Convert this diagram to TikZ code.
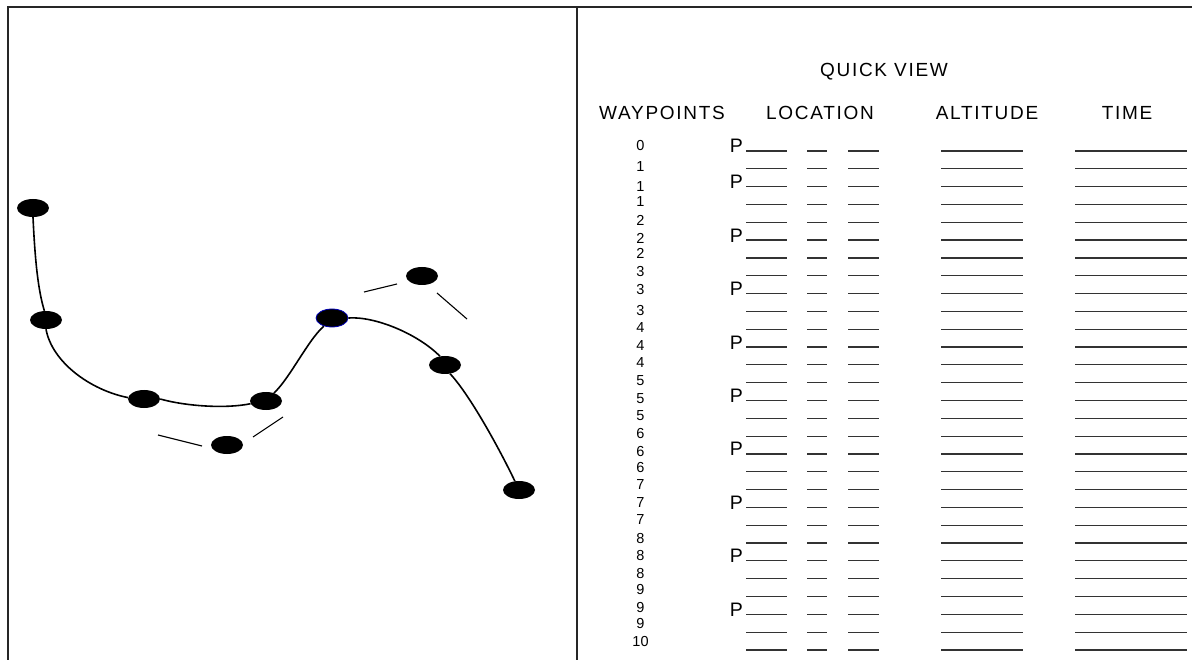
\documentclass[tikz,border=0pt]{standalone}
\usepackage{fontspec}
\setmainfont{Liberation Sans}
\newfontfamily\hdrfont[LetterSpace=9]{Liberation Sans}
\usetikzlibrary{shapes.geometric}
\tikzset{
  frame/.style={line width=1.6pt, black!85},
  tl/.style={line width=1.2pt, black!80},
  hdr/.style={inner sep=0pt, font=\hdrfont\fontsize{19}{21}\selectfont},
  num/.style={inner sep=0pt, font=\fontsize{14.5}{16}\selectfont},
  ptxt/.style={inner sep=0pt, font=\fontsize{19.5}{21}\selectfont},
  wp/.style={ellipse, fill=black, minimum width=32pt, minimum height=18pt, inner sep=0pt},
  trk/.style={line width=1.6pt, black},
  tick/.style={line width=1.1pt, black}
}
\begin{document}
\begin{tikzpicture}[x=1pt,y=-1pt]
\useasboundingbox (0,0) rectangle (1192,660);
% frame
\draw[frame] (8,660) -- (8,7) -- (1192,7);
\draw[frame] (577,7) -- (577,660);
% headers
\node[hdr] (qv) at (884,72) {QUICK VIEW};
\node[hdr] (hw) at (662,113) {WAYPOINTS};
\node[hdr] (hl) at (820,113) {LOCATION};
\node[hdr] (ha) at (987,113) {ALTITUDE};
\node[hdr] (ht) at (1127,113) {TIME};
% table lines
\foreach \j in {0,...,28} {
  \pgfmathsetmacro\yy{151+\j*17.82}
  \draw[tl] (746,\yy) -- (787,\yy);
  \draw[tl] (807,\yy) -- (827,\yy);
  \draw[tl] (848,\yy) -- (879,\yy);
  \draw[tl] (941,\yy) -- (1023,\yy);
  \draw[tl] (1075,\yy) -- (1187,\yy);
}
% P labels
\foreach \j in {0,2,5,8,11,14,17,20,23,26} {
  \pgfmathsetmacro\yy{151+\j*17.82+2}
  \node[ptxt, anchor=base east] (p\j) at (743,\yy) {P};
}
% waypoint numbers
\foreach \n/\y [count=\i] in {0/146,1/167,1/187,1/202,2/220.5,2/238.5,2/253.5,3/271.5,3/290,3/311,4/328,4/346,4/363,5/381,5/399,5/416,6/434,6/451.5,6/468,7/485,7/502.5,7/520,8/539,8/556,8/574,9/590,9/608,9/624,10/642} {
  \node[num] (n\i) at (640.5,\y) {\n};
}
% waypoints
\node[wp] (w1) at (33,208) {};
\node[wp] (w2) at (46,320) {};
\node[wp] (w3) at (144,399) {};
\node[wp] (w4) at (266,401) {};
\node[wp] (w5) at (227,445) {};
\node[wp, draw=blue!70!black, line width=0.8pt] (w6) at (332,318) {};
\node[wp] (w7) at (422,276) {};
\node[wp] (w8) at (445,365) {};
\node[wp] (w9) at (519,490) {};
% track
\draw[trk] (w1.south) .. controls (35,260) and (38,290) .. (w2.100);
\draw[trk] (w2.south) .. controls (52,362) and (90,390) .. (w3.175);
\draw[trk] (w3.east) .. controls (185,406) and (225,409) .. (w4.190);
\draw[trk] (w4.45) .. controls (290,378) and (308,340) .. (w6.225);
\draw[trk] (w6.east) .. controls (375,316) and (418,334) .. (w8.120);
\draw[trk] (w8.300) .. controls (470,395) and (500,450) .. (w9.115);
% ticks
\coordinate (a1) at (158,435); \coordinate (a2) at (202,446);
\coordinate (b1) at (253,437); \coordinate (b2) at (283,417);
\coordinate (c1) at (364,292); \coordinate (c2) at (397,284);
\coordinate (d1) at (437,293); \coordinate (d2) at (467,319);
\draw[tick] (a1) -- (a2);
\draw[tick] (b1) -- (b2);
\draw[tick] (c1) -- (c2);
\draw[tick] (d1) -- (d2);
\end{tikzpicture}
\end{document}
